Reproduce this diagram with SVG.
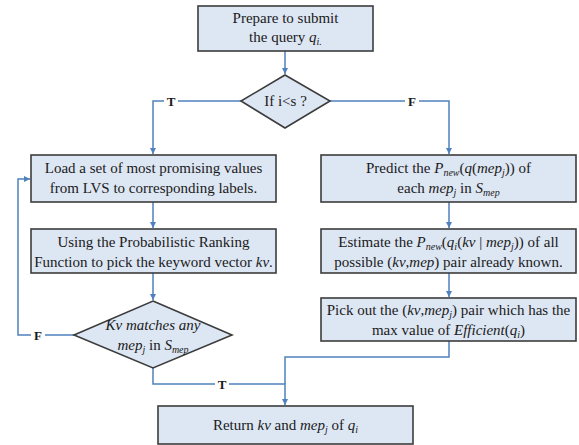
<svg xmlns="http://www.w3.org/2000/svg" width="579" height="445" viewBox="0 0 579 445">
<style>
.box{fill:#dde6f3;stroke:#3c3c3c;stroke-width:1.6}
.ln{fill:none;stroke:#4f81bd;stroke-width:1.5}
.t{font-family:"Liberation Serif","Times New Roman","DejaVu Serif",serif;font-size:15px;fill:#1a1a1a;text-anchor:middle}
.i{font-style:italic}
.s{font-size:10px}
.lb{font-family:"Liberation Serif","Times New Roman","DejaVu Serif",serif;font-size:13px;font-weight:bold;fill:#1a1a1a;text-anchor:middle}
</style>
<defs>
<marker id="ar" viewBox="0 0 10 10" refX="10" refY="5" markerWidth="6" markerHeight="6" orient="auto" markerUnits="userSpaceOnUse">
<path d="M0,0 L10,5 L0,10 z" fill="#4f81bd"/>
</marker>
</defs>
<rect width="579" height="445" fill="#ffffff"/>
<g id="connectors">
<path class="ln" d="M285,51 V74" marker-end="url(#ar)"/>
<path class="ln" d="M241,101 H153 V154" marker-end="url(#ar)"/>
<path class="ln" d="M330,101 H449 V154" marker-end="url(#ar)"/>
<path class="ln" d="M153,202 V228" marker-end="url(#ar)"/>
<path class="ln" d="M449,202 V228" marker-end="url(#ar)"/>
<path class="ln" d="M153,273 V300" marker-end="url(#ar)"/>
<path class="ln" d="M449,273 V297" marker-end="url(#ar)"/>
<path class="ln" d="M74,335 H18 V179 H30" marker-end="url(#ar)"/>
<path class="ln" d="M153,368 V384 H285 V405" marker-end="url(#ar)"/>
<path class="ln" d="M449,341 V357 H285 V384"/>
<rect x="164" y="94" width="14" height="14" fill="#ffffff"/>
<text class="lb" x="171" y="106">T</text>
<rect x="405" y="94" width="14" height="14" fill="#ffffff"/>
<text class="lb" x="412" y="106">F</text>
<rect x="31" y="328" width="14" height="14" fill="#ffffff"/>
<text class="lb" x="38" y="340">F</text>
<rect x="215" y="377" width="14" height="14" fill="#ffffff"/>
<text class="lb" x="222" y="389">T</text>
</g>
<g id="n-prepare">
<rect class="box" x="198" y="6" width="175" height="45"/>
<text class="t" x="285.5" y="23">Prepare to submit</text>
<text class="t" x="285.5" y="42">the query <tspan class="i">q</tspan><tspan class="i s" dy="3">i.</tspan></text>
</g>
<g id="n-ifis">
<polygon class="box" points="285,75 330,101 285,128 241,101"/>
<text class="t" x="285.5" y="106">If i&lt;s ?</text>
</g>
<g id="n-load">
<rect class="box" x="31" y="155" width="245" height="47"/>
<text class="t" x="153.5" y="173">Load a set of most promising values</text>
<text class="t" x="153.5" y="193">from LVS to corresponding labels.</text>
</g>
<g id="n-using">
<rect class="box" x="31" y="229" width="245" height="44"/>
<text class="t" x="153.5" y="247">Using the Probabilistic Ranking</text>
<text class="t" x="153.5" y="267">Function to pick the keyword vector <tspan class="i">kv</tspan>.</text>
</g>
<g id="n-match">
<polygon class="box" points="153,301 232,335 153,368 74,335"/>
<text class="t i" x="153" y="330">Kv matches any</text>
<text class="t" x="153" y="350"><tspan class="i">mep</tspan><tspan class="i s" dy="3">j</tspan><tspan dy="-3"> in </tspan><tspan class="i">S</tspan><tspan class="i s" dy="3">mep</tspan></text>
</g>
<g id="n-predict">
<rect class="box" x="321" y="155" width="255" height="47"/>
<text class="t" x="448.5" y="173">Predict the <tspan class="i">P</tspan><tspan class="i s" dy="3">new</tspan><tspan dy="-3">(</tspan><tspan class="i">q</tspan>(<tspan class="i">mep</tspan><tspan class="i s" dy="3">j</tspan><tspan dy="-3">)) of</tspan></text>
<text class="t" x="448.5" y="193">each <tspan class="i">mep</tspan><tspan class="i s" dy="3">j</tspan><tspan dy="-3"> in </tspan><tspan class="i">S</tspan><tspan class="i s" dy="3">mep</tspan></text>
</g>
<g id="n-estimate">
<rect class="box" x="321" y="229" width="255" height="44"/>
<text class="t" x="448.5" y="247">Estimate the <tspan class="i">P</tspan><tspan class="i s" dy="3">new</tspan><tspan dy="-3">(</tspan><tspan class="i">q</tspan><tspan class="i s" dy="3">i</tspan><tspan dy="-3">(</tspan><tspan class="i">kv</tspan> | <tspan class="i">mep</tspan><tspan class="i s" dy="3">j</tspan><tspan dy="-3">)) of all</tspan></text>
<text class="t" x="448.5" y="267">possible (<tspan class="i">kv</tspan>,<tspan class="i">mep</tspan>) pair already known.</text>
</g>
<g id="n-pick">
<rect class="box" x="321" y="298" width="255" height="43"/>
<text class="t" x="448.5" y="315">Pick out the (<tspan class="i">kv</tspan>,<tspan class="i">mep</tspan><tspan class="i s" dy="3">j</tspan><tspan dy="-3">) pair which has the</tspan></text>
<text class="t" x="448.5" y="335">max value of <tspan class="i">Efficient</tspan>(<tspan class="i">q</tspan><tspan class="i s" dy="3">i</tspan><tspan dy="-3">)</tspan></text>
</g>
<g id="n-return">
<rect class="box" x="158" y="406" width="255" height="38"/>
<text class="t" x="285.5" y="430">Return <tspan class="i">kv</tspan> and <tspan class="i">mep</tspan><tspan class="i s" dy="3">j</tspan><tspan dy="-3"> of </tspan><tspan class="i">q</tspan><tspan class="i s" dy="3">i</tspan></text>
</g>
</svg>
